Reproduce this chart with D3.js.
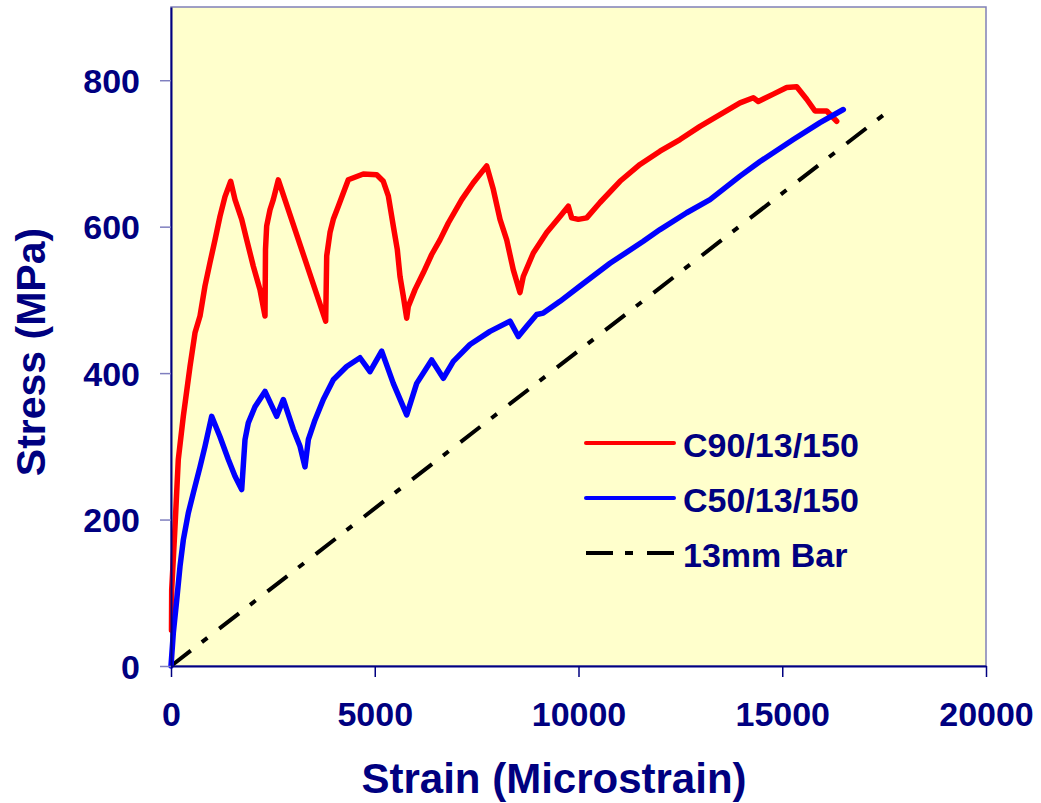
<!DOCTYPE html>
<html>
<head>
<meta charset="utf-8">
<script src="https://d3js.org/d3.v7.min.js"></script>
<style>
    body { margin: 0; background: #fff; }
    text { font-family: "Liberation Sans", Arial, sans-serif; font-weight: bold; fill: #000080; }
</style>
</head>
<body>
<div class="chart"></div>
<script>
// C90/13/150 : strain (microstrain), stress (MPa)
var c90Strain = [12, 17, 98, 179, 302, 466, 589, 712, 834, 957, 1080, 1202, 1325, 1465, 1571, 1735, 1858, 2020, 2184, 2307,
    2319, 2348, 2429, 2510, 2633, 3796, 3821, 3902, 3983, 4106, 4228, 4351, 4719, 5048, 5210, 5333, 5455, 5553, 5620, 5701, 5784,
    5823, 5988, 6191, 6397, 6601, 6805, 7134, 7418, 7747, 7909, 8074, 8238, 8400, 8564, 8645, 8891, 9220, 9546, 9750, 9833,
    9995, 10201, 10528, 11018, 11509, 12000, 12491, 12982, 13472, 13963, 14290, 14412, 14780, 15109, 15355, 15600, 15804, 16091, 16336];
var c90Stress = [49, 104, 190, 282, 341, 409, 455, 478, 519, 551, 582, 614, 641, 662, 637, 610, 582, 546, 514, 478,
    569, 601, 623, 637, 664, 471, 560, 592, 610, 628, 646, 664, 672, 671, 662, 642, 601, 569, 532, 505, 475,
    491, 514, 537, 562, 582, 605, 637, 660, 683, 651, 610, 582, 541, 510, 532, 564, 592, 614, 628, 612,
    610, 612, 633, 662, 685, 703, 719, 737, 753, 769, 776, 771, 781, 790, 791, 774, 758, 758, 744];

// C50/13/150
var c50Strain = [0, 57, 140, 221, 302, 425, 547, 712, 834, 998, 1202, 1407, 1571, 1735, 1816, 1897, 2061, 2307, 2594, 2756,
    3002, 3166, 3288, 3370, 3534, 3738, 3983, 4311, 4638, 4883, 5170, 5455, 5784, 6029, 6397, 6683, 6928, 7337, 7828, 8319,
    8523, 8729, 8974, 9136, 9546, 10037, 10773, 11590, 12000, 12655, 13227, 13963, 14454, 15271, 15926, 16498];
var c50Stress = [0, 45, 90, 136, 172, 209, 236, 272, 300, 341, 313, 282, 259, 241, 309, 332, 354, 375, 341, 364,
    323, 300, 272, 309, 336, 364, 391, 409, 421, 402, 430, 386, 343, 386, 418, 393, 416, 439, 457, 471,
    450, 464, 480, 482, 498, 519, 550, 580, 596, 619, 637, 669, 689, 719, 742, 760];

// 13mm Bar
var barStrain = [0, 17750];
var barStress = [0, 764];

var xTicks = [0, 5000, 10000, 15000, 20000];
var yTicks = [0, 200, 400, 600, 800];
var seriesNames = ['C90/13/150', 'C50/13/150', '13mm Bar'];

var margin = {top: 7, left: 171, right: 55, bottom: 137},
    width = 986 - margin.left,
    height = 666 - margin.top;

var x = d3.scaleLinear().domain([0, 20000]).range([0, width]);
var y = d3.scaleLinear().domain([0, 900]).range([height, 0]);

var svg = d3.select('.chart')
            .append('svg')
            .attr('width', 1041)
            .attr('height', 803)
            .append('g')
            .attr('transform', 'translate(' + margin.left + ',' + margin.top + ')');

// plot area
svg.append('rect')
    .attr('width', width)
    .attr('height', height)
    .style('fill', '#ffffcc')
    .style('stroke', '#8080b8')
    .style('stroke-width', 1.5);

var zip = function (xs, ys) { return xs.map(function (v, i) { return [v, ys[i]]; }); };
var series = [
    {name: seriesNames[0], pts: zip(c90Strain, c90Stress), color: '#ff0000', w: 5.5, dash: null},
    {name: seriesNames[1], pts: zip(c50Strain, c50Stress), color: '#0000ff', w: 5.5, dash: null},
    {name: seriesNames[2], pts: zip(barStrain, barStress), color: '#000000', w: 4, dash: '25,14,7,15'}
];

var line = d3.line().x(d => x(d[0])).y(d => y(d[1]));

// bar under, then red, then blue on top
[series[2], series[0], series[1]].forEach(function (s) {
    svg.append('path')
        .datum(s.pts)
        .attr('d', line)
        .style('fill', 'none')
        .style('stroke', s.color)
        .style('stroke-width', s.w)
        .style('stroke-linejoin', 'round')
        .style('stroke-linecap', s.dash ? 'butt' : 'round')
        .style('stroke-dasharray', s.dash);
});

// axes
var xAxis = d3.axisBottom(x).tickValues(xTicks).tickSizeInner(11).tickSizeOuter(0).tickPadding(23).tickFormat(d3.format('d'));
var yAxis = d3.axisLeft(y).tickValues(yTicks).tickSizeInner(11).tickSizeOuter(0).tickPadding(20);

var gx = svg.append('g')
    .attr('transform', 'translate(0,' + height + ')')
    .call(xAxis);
var gy = svg.append('g').call(yAxis);

[gx, gy].forEach(function (g) {
    g.select('.domain').style('stroke', '#000080').style('stroke-width', 2);
    g.selectAll('.tick line').style('stroke', '#000080').style('stroke-width', 1.5);
    g.selectAll('.tick text').style('font-size', '34px').style('fill', '#000080')
        .style('font-family', '"Liberation Sans", Arial, sans-serif');
});
gy.selectAll('.tick line').style('stroke', '#7f7fbf');
gy.selectAll('.tick text').attr('dy', '0.36em');
gx.selectAll('.tick text').attr('dy', '0.76em');

// axis titles
svg.append('text')
    .attr('x', 554 - margin.left)
    .attr('y', 793 - margin.top)
    .style('text-anchor', 'middle')
    .style('font-size', '42px')
    .text('Strain (Microstrain)');

svg.append('text')
    .attr('transform', 'translate(' + (45 - margin.left) + ',' + (352 - margin.top) + ') rotate(-90)')
    .style('text-anchor', 'middle')
    .style('font-size', '41px')
    .text('Stress (MPa)');

// legend
var legend = svg.selectAll('.legend')
                .data(series)
                .enter().append('g')
                .attr('class', 'legend')
                .attr('transform', (d, i) => 'translate(' + (586 - margin.left) + ',' + (443 + i * 55 - margin.top) + ')');

legend.append('line')
      .attr('x1', 0)
      .attr('x2', 88)
      .style('stroke', d => d.color)
      .style('stroke-width', 4)
      .style('stroke-linecap', d => d.dash ? 'butt' : 'round')
      .style('stroke-dasharray', d => d.dash ? '27,12,8,14,27' : null);

legend.append('text')
      .attr('x', 97)
      .attr('y', 14)
      .style('font-size', '34px')
      .text(d => d.name);
</script>
</body>
</html>
